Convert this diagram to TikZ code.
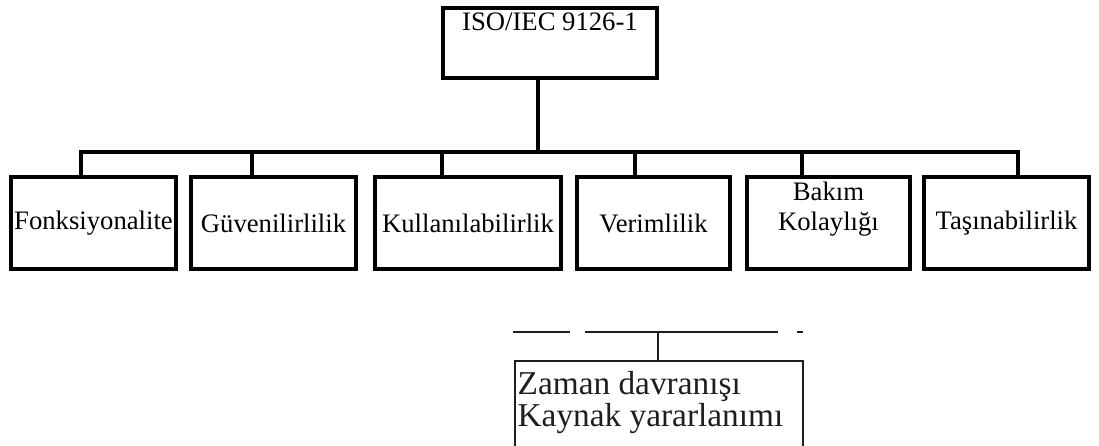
\documentclass[tikz,border=0pt]{standalone}
\usepackage{fontspec}
\setmainfont{Liberation Serif}
\usetikzlibrary{positioning,calc}
\definecolor{ink}{HTML}{000000}
\definecolor{scan}{HTML}{1E1E1E}
\newcommand{\pxu}{0.75pt}
\tikzset{cbox/.style={draw=ink, line width=2.8pt, inner sep=0pt, minimum height=92*\pxu, font=\fontsize{20}{22.5}\selectfont}, tie/.style={draw=ink, line width=2.8pt}, lbl/.style={font=\fontsize{20}{22.5}\selectfont, text=ink, inner sep=0pt}, thinline/.style={draw=scan, line width=1pt}, sbox/.style={draw=scan, line width=1.4pt, inner sep=0pt}, stxt/.style={font=\fontsize{25}{24}\selectfont, text=scan, inner sep=0pt, align=left}}

\begin{document}
\begin{tikzpicture}[x=0.75pt, y=-0.75pt]
\useasboundingbox (0,0) rectangle (1099,446);
\clip (0,0) rectangle (1099,446);
% kök
\node[cbox, minimum width=214*\pxu, minimum height=70*\pxu] (iso) at (550,43) {};
\node[lbl, anchor=base] (isoT) at ([yshift=-18pt]iso.north) {ISO/IEC 9126-1};
% karakteristikler
\node[cbox, minimum width=165*\pxu] (fonk) at (93.5,223) {Fonksiyonalite};
\node[cbox, minimum width=165*\pxu] (guv) at (273.5,223) {Güvenilirlilik};
\node[cbox, minimum width=186*\pxu] (kul) at (468,223) {Kullanılabilirlik};
\node[cbox, minimum width=153*\pxu] (ver) at (653.5,223) {Verimlilik};
\node[cbox, minimum width=163*\pxu] (bak) at (828.5,223) {};
\node[lbl, align=center] (bakT) at ([yshift=10.5pt]bak.center) {Bakım\\Kolaylığı};
\node[cbox, minimum width=165*\pxu] (tas) at (1006.5,223) {Taşınabilirlik};
% bağlantılar
\coordinate (hub) at (538,152);
\coordinate (dfonk) at (81,152); \coordinate (dguv) at (252,152); \coordinate (dkul) at (442,152);
\coordinate (dver) at (635,152); \coordinate (dbak) at (802,152); \coordinate (dtas) at (1018,152);
\draw[tie] (iso.south -| hub) -- (hub);
\draw[tie] (fonk.north -| dfonk) -- (dfonk) -- (dtas) -- (tas.north -| dtas);
\draw[tie] (dguv) -- (guv.north -| dguv); \draw[tie] (dkul) -- (kul.north -| dkul);
\draw[tie] (dver) -- (ver.north -| dver); \draw[tie] (dbak) -- (bak.north -| dbak);
% verimlilik alt kutusu
\node[sbox, minimum width=288*\pxu, minimum height=130*\pxu] (zaman) at (659,426) {};
\node[stxt, anchor=north west] (zamanT) at ([xshift=2.5pt, yshift=-8pt]zaman.north west) {Zaman davranışı\\Kaynak yararlanımı};
\coordinate (zk) at (658,332);
\draw[thinline] (zk) -- (zk |- zaman.north);
\draw[thinline] (513,332) -- (570,332) (585,332) -- (778,332) (797,332) -- (803,332);
\end{tikzpicture}
\end{document}
